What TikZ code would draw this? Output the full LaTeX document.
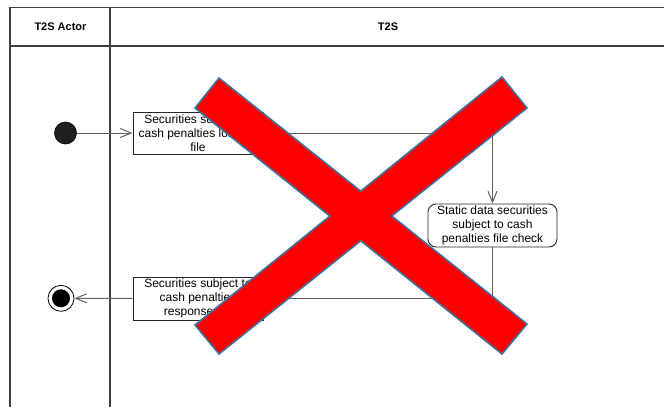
\documentclass[tikz,border=0pt]{standalone}
\usepackage{fontspec}
\setmainfont{Liberation Sans}
\usetikzlibrary{arrows.meta}
\definecolor{xblue}{HTML}{41719C}
\definecolor{xred}{HTML}{FF0000}
\begin{document}
\begin{tikzpicture}[x=1pt,y=-1pt,
  lane/.style={draw=black!75, line width=1.2pt},
  hdr/.style={font=\bfseries\fontsize{11}{13}\selectfont, inner sep=0pt},
  act/.style={draw=black!85, line width=0.9pt, fill=white, align=center,
    font=\fontsize{12}{14}\selectfont, inner sep=0pt,
    minimum width=130pt, minimum height=42pt},
  initnode/.style={circle, fill=black!88, draw=black, line width=0.6pt, minimum size=22pt, inner sep=0pt},
  finalnode/.style={circle, draw=black, line width=0.8pt, fill=white, minimum size=26pt, inner sep=0pt},
  finaldot/.style={circle, fill=black, minimum size=18pt, inner sep=0pt},
  flow/.style={draw=black!62, line width=1pt, -{Straight Barb[length=11pt,width=9pt]}},
  cross/.style={fill=xred, draw=xblue, line width=1.6pt, line join=miter}
]
\useasboundingbox (0,0) rectangle (664,407);

% swimlanes
\draw[lane] (10,407) -- (10,7.5) -- (664,7.5);
\draw[lane] (10,46) -- (664,46);
\draw[lane] (110,7.5) -- (110,407);
\node[hdr] (hactor) at (60.5,26.5) {T2S Actor};
\node[hdr] (ht2s) at (388,26.5) {T2S};

% nodes
\node[initnode] (start) at (65.5,133) {};
\node[act] (load) at (198,133) {Securities subject to\\cash penalties loading\\file};
\node[act, rounded corners=8pt, minimum width=129pt, minimum height=43pt] (check) at (492.5,225.5)
  {Static data securities\\subject to cash\\penalties file check};
\node[act, minimum height=43pt] (resp) at (198,298.5) {Securities subject to\\cash penalties\\response file};
\node[finalnode] (end) at (61,298.3) {};
\node[finaldot] (enddot) at (end.center) {};

% flows
\draw[flow] (start) -- (load);
\draw[flow] (load.east) -| (check.north);
\draw[flow] (check.south) |- (resp.east);
\draw[flow] (resp.west) -- (end.east);

% red cross
\coordinate (a1) at (219,78);
\coordinate (a2) at (527,324);
\coordinate (a3) at (502,354);
\coordinate (a4) at (195,108);
\coordinate (b1) at (195,325);
\coordinate (b2) at (502,77);
\coordinate (b3) at (527,108);
\coordinate (b4) at (219,354);
\coordinate (ptop) at (intersection of a1--a2 and b1--b2);
\coordinate (pright) at (intersection of a1--a2 and b3--b4);
\coordinate (pbot) at (intersection of a3--a4 and b3--b4);
\coordinate (pleft) at (intersection of a3--a4 and b1--b2);
\path[cross] (a1) -- (ptop) -- (b2) -- (b3) -- (pright) -- (a2) -- (a3) -- (pbot)
  -- (b4) -- (b1) -- (pleft) -- (a4) -- cycle;
\end{tikzpicture}
\end{document}
